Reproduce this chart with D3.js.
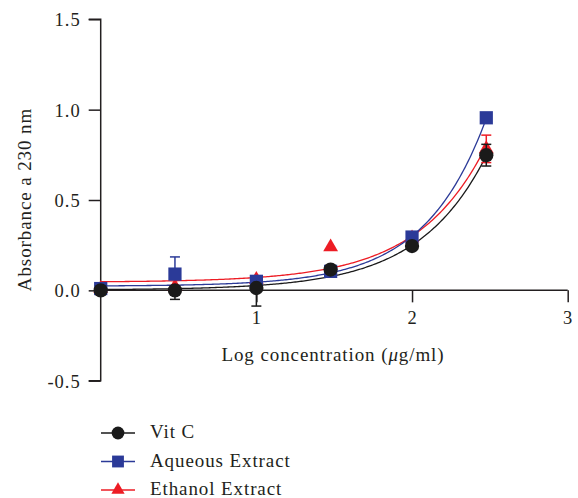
<!DOCTYPE html>
<html>
<head>
<meta charset="utf-8">
<script src="https://cdn.jsdelivr.net/npm/d3@7"></script>
<style>
  body { margin: 0; background: #fff; }
  text { font-family: "Liberation Serif", "DejaVu Serif", serif; fill: #231f20; }
</style>
</head>
<body>
<div id="chart"></div>
<script>
'use strict';

// log concentration (x) for every series
const logConc = [0, 0.477, 1, 1.477, 2, 2.477];

const vitC = [0.0, 0.0, 0.013, 0.115, 0.245, 0.748];
const vitCErrLo = [0, 0.05, 0.10, 0, 0, 0.06];
const vitCErrHi = [0, 0, 0, 0, 0, 0.06];

const aqueous = [0.01, 0.09, 0.05, 0.105, 0.295, 0.955];
const aqueousErrLo = [0, 0, 0, 0, 0, 0];
const aqueousErrHi = [0, 0.095, 0, 0, 0, 0];

const ethanol = [0.01, 0.02, 0.06, 0.24, 0.29, 0.783];
const ethanolErrLo = [0, 0, 0, 0, 0, 0.076];
const ethanolErrHi = [0, 0, 0, 0, 0, 0.076];

// exponential fit y = y0 + a*exp(k*x), one per series
const vitCFit = [0.002, 0.00249, 2.301];
const aqueousFit = [0.023, 0.00175, 2.533];
const ethanolFit = [0.045, 0.0027, 2.275];

const xTicks = [1, 2, 3];
const yTicks = [-0.5, 0, 0.5, 1.0, 1.5];

const width = 578, height = 498;

let svg = d3.select('#chart').append('svg')
    .attr('width', width)
    .attr('height', height);

let x = d3.scaleLinear().domain([0, 3]).range([100.7, 567.7]);
let y = d3.scaleLinear().domain([-0.5, 1.5]).range([380.7, 19.3]);

// axes
let yAxis = svg.append('g')
    .attr('transform', 'translate(' + x(0) + ',0)')
    .call(d3.axisLeft(y).tickValues(yTicks).tickSize(12).tickPadding(8)
        .tickFormat(function (d) { return d.toFixed(1); }));
let xAxis = svg.append('g')
    .attr('transform', 'translate(0,' + y(0) + ')')
    .call(d3.axisBottom(x).tickValues(xTicks).tickSize(12).tickPadding(9)
        .tickFormat(d3.format('d')));

[xAxis, yAxis].forEach(function (a) {
    a.select('.domain').attr('stroke', '#231f20').attr('stroke-width', 1.5);
    a.selectAll('.tick line').attr('stroke', '#231f20').attr('stroke-width', 1.5);
    a.selectAll('.tick text').attr('font-size', 18.5)
        .style('font-family', '"Liberation Serif", serif')
        .style('letter-spacing', '1px')
        .attr('fill', '#231f20');
});
yAxis.select('.domain').attr('d', 'M-12,' + y(1.5) + 'H0V' + y(-0.5) + 'H-12');
xAxis.select('.domain').attr('d', 'M' + x(0) + ',0H' + x(3));
yAxis.selectAll('.tick text').attr('dy', '0.35em');

svg.append('text')
    .attr('transform', 'translate(31,199.5) rotate(-90)')
    .attr('text-anchor', 'middle')
    .attr('font-size', 19)
    .style('letter-spacing', '0.9px')
    .text('Absorbance a 230 nm');

let xl = svg.append('text')
    .attr('x', 333)
    .attr('y', 361)
    .attr('text-anchor', 'middle')
    .attr('font-size', 19)
    .style('letter-spacing', '0.9px');
xl.append('tspan').text('Log concentration (');
xl.append('tspan').attr('font-style', 'italic').text('μ');
xl.append('tspan').text('g/ml)');

const series = [
    { name: 'Ethanol Extract', vals: ethanol, lo: ethanolErrLo, hi: ethanolErrHi, fit: ethanolFit,
      color: '#ed1c24', shape: d3.symbolTriangle, size: 95 },
    { name: 'Aqueous Extract', vals: aqueous, lo: aqueousErrLo, hi: aqueousErrHi, fit: aqueousFit,
      color: '#2b3a98', shape: d3.symbolSquare, size: 175 },
    { name: 'Vit C', vals: vitC, lo: vitCErrLo, hi: vitCErrHi, fit: vitCFit,
      color: '#1a1a1a', shape: d3.symbolCircle, size: 160 }
];

const line = d3.line()
    .x(function (d) { return x(d[0]); })
    .y(function (d) { return y(d[1]); });

series.forEach(function (s) {
    let fx = d3.range(0, 2.4771, 0.01);
    let pts = fx.map(function (v) { return [v, s.fit[0] + s.fit[1] * Math.exp(s.fit[2] * v)]; });
    svg.append('path')
        .attr('d', line(pts))
        .attr('fill', 'none')
        .attr('stroke', s.color)
        .attr('stroke-width', 1.3);
});

series.forEach(function (s) {
    let g = svg.append('g');
    logConc.forEach(function (c, i) {
        let v = s.vals[i];
        let cx = x(c);
        let bars = [];
        if (s.lo[i] > 0) bars.push(v - s.lo[i]);
        if (s.hi[i] > 0) bars.push(v + s.hi[i]);
        bars.forEach(function (e) {
            g.append('line').attr('x1', cx).attr('x2', cx)
                .attr('y1', y(v)).attr('y2', y(e))
                .attr('stroke', s.color).attr('stroke-width', 1.5);
            g.append('line').attr('x1', cx - 5).attr('x2', cx + 5)
                .attr('y1', y(e)).attr('y2', y(e))
                .attr('stroke', s.color).attr('stroke-width', 1.5);
        });
    });
    g.selectAll('path.pt').data(s.vals).enter().append('path')
        .attr('class', 'pt')
        .attr('d', d3.symbol().type(s.shape).size(s.size))
        .attr('transform', function (d, i) {
            return 'translate(' + x(logConc[i]) + ',' + y(d) + ')';
        })
        .attr('fill', s.color);
});

// legend
const legendOrder = series.slice().reverse();
let leg = svg.append('g');
legendOrder.forEach(function (s, i) {
    let ly = 433 + i * 28.5;
    leg.append('line').attr('x1', 101).attr('x2', 135)
        .attr('y1', ly).attr('y2', ly)
        .attr('stroke', s.color).attr('stroke-width', 1.5);
    leg.append('path')
        .attr('d', d3.symbol().type(s.shape).size(s.size * 0.8))
        .attr('transform', 'translate(118,' + ly + ')')
        .attr('fill', s.color);
    leg.append('text')
        .attr('x', 150).attr('y', ly + 5)
        .attr('font-size', 19)
        .style('letter-spacing', '0.9px')
        .text(s.name);
});
</script>
</body>
</html>
